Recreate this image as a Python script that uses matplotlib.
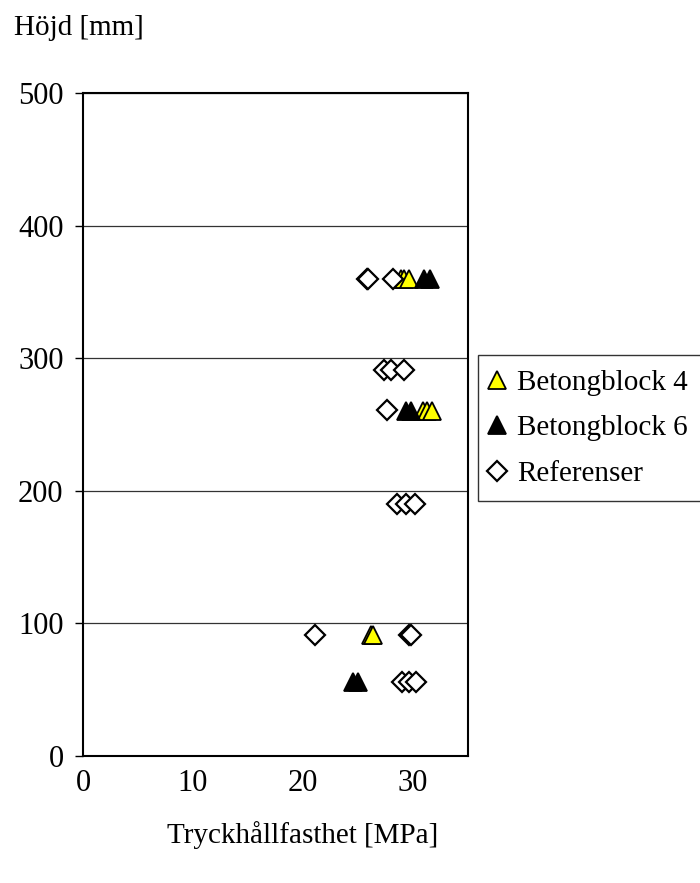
import numpy as np
import matplotlib
matplotlib.use('Agg')
import matplotlib.pyplot as plt

plt.rcParams['font.family'] = ['Liberation Serif', 'DejaVu Serif']

# Betongblock 4 (gula trianglar)
block4_x = [28.9, 29.2, 29.6, 30.9, 31.3, 31.7, 26.2, 26.4]
block4_y = [360, 360, 360, 260, 260, 260, 91, 91]

# Betongblock 6 (svarta trianglar)
block6_x = [31.0, 31.5, 29.4, 29.8, 24.5, 25.0]
block6_y = [360, 360, 260, 260, 56, 56]

# Referenser (romber)
ref_x = [25.8, 25.9, 28.2, 27.4, 28.0, 29.2, 27.6, 28.5, 29.4, 30.2,
         21.1, 29.6, 29.8, 29.0, 29.6, 30.3]
ref_y = [360, 360, 360, 291, 291, 291, 261, 190, 190, 190,
         91, 91, 91, 56, 56, 56]

xticks = [0, 10, 20, 30]
yticks = [0, 100, 200, 300, 400, 500]

fig = plt.figure(figsize=(7, 8.83), dpi=100)
ax = fig.add_axes([0.1186, 0.1438, 0.55, 0.7509])

ax.plot(block4_x, block4_y, linestyle='none', marker='^', markersize=13.5,
        markerfacecolor='#ffff00', markeredgecolor='black', markeredgewidth=1.3,
        label='Betongblock 4', zorder=3)
ax.plot(block6_x, block6_y, linestyle='none', marker='^', markersize=13.5,
        markerfacecolor='black', markeredgecolor='black', markeredgewidth=1.3,
        label='Betongblock 6', zorder=3)
ax.plot(ref_x, ref_y, linestyle='none', marker='D', markersize=10.5,
        markerfacecolor='white', markeredgecolor='black', markeredgewidth=1.6,
        label='Referenser', zorder=3)

ax.set_xlim(0, 35)
ax.set_ylim(0, 500)
ax.set_xticks(xticks)
ax.set_yticks(yticks)
ax.yaxis.grid(True, color='#333333', linewidth=0.9)
ax.set_axisbelow(True)
ax.tick_params(axis='both', labelsize=22, direction='out', length=6, width=1)
ax.tick_params(axis='x', length=0, pad=9)
ax.tick_params(axis='y', pad=8)
for sp in ax.spines.values():
    sp.set_linewidth(1.5)

fig.text(0.02, 0.968, 'Höjd [mm]', fontsize=21, ha='left', va='center')
fig.text(0.433, 0.054, 'Tryckhållfasthet [MPa]', fontsize=21, ha='center', va='center')

leg = ax.legend(loc='upper left', bbox_to_anchor=(0.683, 0.598),
                bbox_transform=fig.transFigure, fontsize=21, frameon=True,
                fancybox=False, edgecolor='black', borderpad=0.5,
                handlelength=0.3, handletextpad=0.55, labelspacing=0.65,
                borderaxespad=0)
leg.get_frame().set_linewidth(1.0)

fig.savefig('out.png', dpi=100)
